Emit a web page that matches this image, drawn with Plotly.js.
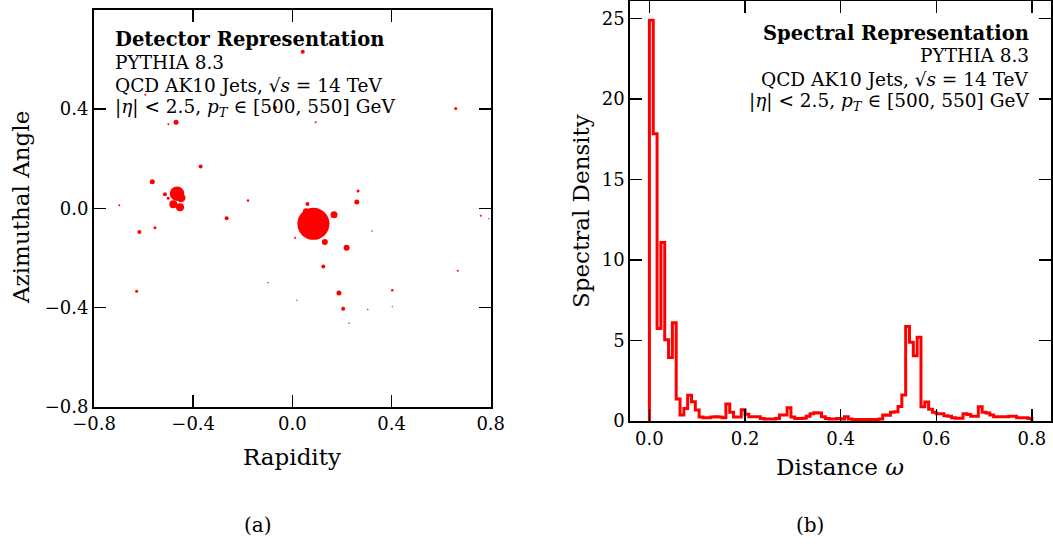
<!DOCTYPE html>
<html>
<head>
<meta charset="utf-8">
<script src="https://cdn.plot.ly/plotly-3.0.1.min.js"></script>
<style>
  html, body { margin: 0; padding: 0; background: #ffffff; }
  #chart { width: 1053px; height: 553px; }
</style>
</head>
<body>
<div id="chart"></div>
<script>
// Jet constituents: rapidity, azimuthal angle and momentum fraction
const rapidity = [0.042, 0.338, -0.593, -0.070, 0.659, -0.469, -0.500, 0.094, -0.370, -0.565,
  -0.465, -0.449, -0.514, -0.501, -0.480, -0.453, -0.698, -0.179, -0.265, -0.617,
  -0.554, 0.061, 0.085, 0.055, 0.168, 0.131, 0.219, 0.125, 0.011, 0.260,
  0.265, 0.321, 0.760, 0.792, 0.667, -0.628, -0.098, 0.018, 0.188, 0.403,
  0.205, 0.304, 0.403, 0.229];
const azimuth = [0.632, 0.656, 0.458, 0.406, 0.403, 0.347, 0.339, 0.347, 0.168, 0.107,
  0.059, 0.042, 0.056, 0.040, 0.016, 0.004, 0.012, 0.031, -0.040, -0.096,
  -0.079, 0.017, -0.063, -0.012, -0.026, -0.136, -0.159, -0.235, -0.119, 0.025,
  0.070, -0.092, -0.030, -0.042, -0.252, -0.335, -0.301, -0.371, -0.342, -0.331,
  -0.406, -0.409, -0.397, -0.464];
const ptFraction = [0.0064, 0.0016, 0.0016, 0.0064, 0.0036, 0.0100, 0.0016, 0.0016, 0.0064, 0.0100,
  0.0841, 0.0324, 0.0064, 0.0036, 0.0256, 0.0256, 0.0016, 0.0025, 0.0064, 0.0064,
  0.0036, 0.0064, 0.4100, 0.0144, 0.0196, 0.0144, 0.0144, 0.0064, 0.0016, 0.0100,
  0.0036, 0.0009, 0.0016, 0.0006, 0.0016, 0.0036, 0.0009, 0.0006, 0.0100, 0.0025,
  0.0064, 0.0009, 0.0006, 0.0009];

// Spectral density per bin of the distance omega (100 bins on [0, 0.8])
const binWidth = 0.008;
const spectralDensity = [
  24.9, 17.85, 5.75, 11.1, 5.05, 3.95, 6.1, 1.36, 0.37, 0.78,
  1.6, 1.2, 0.68, 0.25, 0.2, 0.2, 0.25, 0.27, 0.25, 0.2,
  1.05, 0.55, 0.25, 0.25, 0.7, 0.42, 0.27, 0.27, 0.27, 0.15,
  0.12, 0.12, 0.12, 0.15, 0.37, 0.37, 0.83, 0.25, 0.15, 0.15,
  0.17, 0.3, 0.45, 0.52, 0.5, 0.27, 0.15, 0.12, 0.12, 0.15,
  0.12, 0.27, 0.12, 0.1, 0.1, 0.1, 0.08, 0.1, 0.1, 0.1,
  0.12, 0.37, 0.35, 0.55, 0.58, 0.9, 1.62, 5.88, 4.9, 4.05,
  5.2, 0.88, 1.18, 0.73, 0.55, 0.45, 0.45, 0.33, 0.3, 0.2,
  0.17, 0.17, 0.45, 0.4, 0.3, 0.3, 0.88, 0.55, 0.5, 0.37,
  0.27, 0.27, 0.27, 0.27, 0.3, 0.3, 0.2, 0.2, 0.2, 0.15];

const leftTicks = [-0.8, -0.4, 0.0, 0.4, 0.8];
const omegaTicks = [0.0, 0.2, 0.4, 0.6, 0.8];
const densityTicks = [0, 5, 10, 15, 20, 25];

const W = 1053, H = 553;
const px = x => x / W;
const py = y => 1 - y / H;
const FONT = 'DejaVu Serif';

// Step outline of the histogram, closed down to zero at both ends
const stepX = [0];
const stepY = [0];
spectralDensity.forEach((v, i) => { stepX.push(i * binWidth); stepY.push(v); });
stepX.push(spectralDensity.length * binWidth);
stepY.push(0);

const constituents = {
  type: 'scatter', mode: 'markers',
  x: rapidity, y: azimuth,
  xaxis: 'x', yaxis: 'y',
  marker: {
    color: '#ff0000',
    opacity: 1,
    size: ptFraction.map(z => 50 * Math.sqrt(z)),
    line: { width: 0 }
  },
  hoverinfo: 'x+y',
  showlegend: false
};

const spectrum = {
  type: 'scatter', mode: 'lines',
  x: stepX, y: stepY,
  xaxis: 'x2', yaxis: 'y2',
  line: { color: '#ff0000', width: 3, shape: 'hv' },
  showlegend: false
};

function frameAxis(extra) {
  return Object.assign({
    showline: true, linecolor: '#000000', linewidth: 2,
    mirror: 'allticks', ticks: 'inside', ticklen: 12, tickwidth: 1.5,
    tickcolor: '#000000', showgrid: false, zeroline: false,
    tickfont: { family: FONT, size: 18, color: '#000000' },
    fixedrange: true
  }, extra);
}

function label(text, x, y, opts) {
  return Object.assign({
    text: text, xref: 'paper', yref: 'paper', x: px(x), y: py(y),
    showarrow: false, xanchor: 'left', yanchor: 'middle',
    font: { family: FONT, size: 18.5, color: '#000000' }
  }, opts || {});
}

const boldFont = { family: FONT, size: 19.5, color: '#000000' };
const titleFont = { family: FONT, size: 23, color: '#000000' };

const annotations = [
  // detector panel text block
  label('<b>Detector Representation</b>', 113, 39, { font: boldFont }),
  label('PYTHIA 8.3', 113, 62.5),
  label('QCD AK10 Jets, √<i>s</i> = 14 TeV', 113, 85.5),
  label('|<i>η</i>| < 2.5, <i>p<sub>T</sub></i> ∈ [500, 550] GeV', 113, 108.5),
  // spectral panel text block
  label('<b>Spectral Representation</b>', 1031, 33, { xanchor: 'right', font: boldFont }),
  label('PYTHIA 8.3', 1031, 56, { xanchor: 'right' }),
  label('QCD AK10 Jets, √<i>s</i> = 14 TeV', 1031, 79.5, { xanchor: 'right' }),
  label('|<i>η</i>| < 2.5, <i>p<sub>T</sub></i> ∈ [500, 550] GeV', 1031, 102, { xanchor: 'right' }),
  // axis titles
  label('Rapidity', 292, 457, { xanchor: 'center', font: titleFont }),
  label('Azimuthal Angle', 21, 208, { xanchor: 'center', textangle: -90, font: titleFont }),
  label('Distance <i>ω</i>', 840, 467, { xanchor: 'center', font: titleFont }),
  label('Spectral Density', 581, 211, { xanchor: 'center', textangle: -90, font: titleFont }),
  // sub-figure captions
  label('(a)', 258, 525, { xanchor: 'center', font: { family: FONT, size: 20, color: '#000' } }),
  label('(b)', 810, 525, { xanchor: 'center', font: { family: FONT, size: 20, color: '#000' } })
];

const layout = {
  width: W, height: H,
  margin: { l: 0, r: 0, t: 0, b: 0, pad: 0 },
  paper_bgcolor: '#ffffff', plot_bgcolor: '#ffffff',
  showlegend: false,
  xaxis: frameAxis({ domain: [px(94), px(490.7)], range: [-0.8, 0.8], anchor: 'y',
    tickvals: leftTicks, tickformat: '.1f' }),
  yaxis: frameAxis({ domain: [py(406.5), py(10)], range: [-0.8, 0.8], anchor: 'x',
    tickvals: leftTicks, tickformat: '.1f' }),
  xaxis2: frameAxis({ domain: [px(630.3), px(1051)], range: [-0.04, 0.84], anchor: 'y2',
    tickvals: omegaTicks, tickformat: '.1f' }),
  yaxis2: frameAxis({ domain: [py(421), py(1)], range: [0, 26.1], anchor: 'x2',
    tickvals: densityTicks, tickformat: 'd' }),
  annotations: annotations
};

Plotly.newPlot('chart', [constituents, spectrum], layout, { displayModeBar: false, staticPlot: true });
</script>
</body>
</html>
